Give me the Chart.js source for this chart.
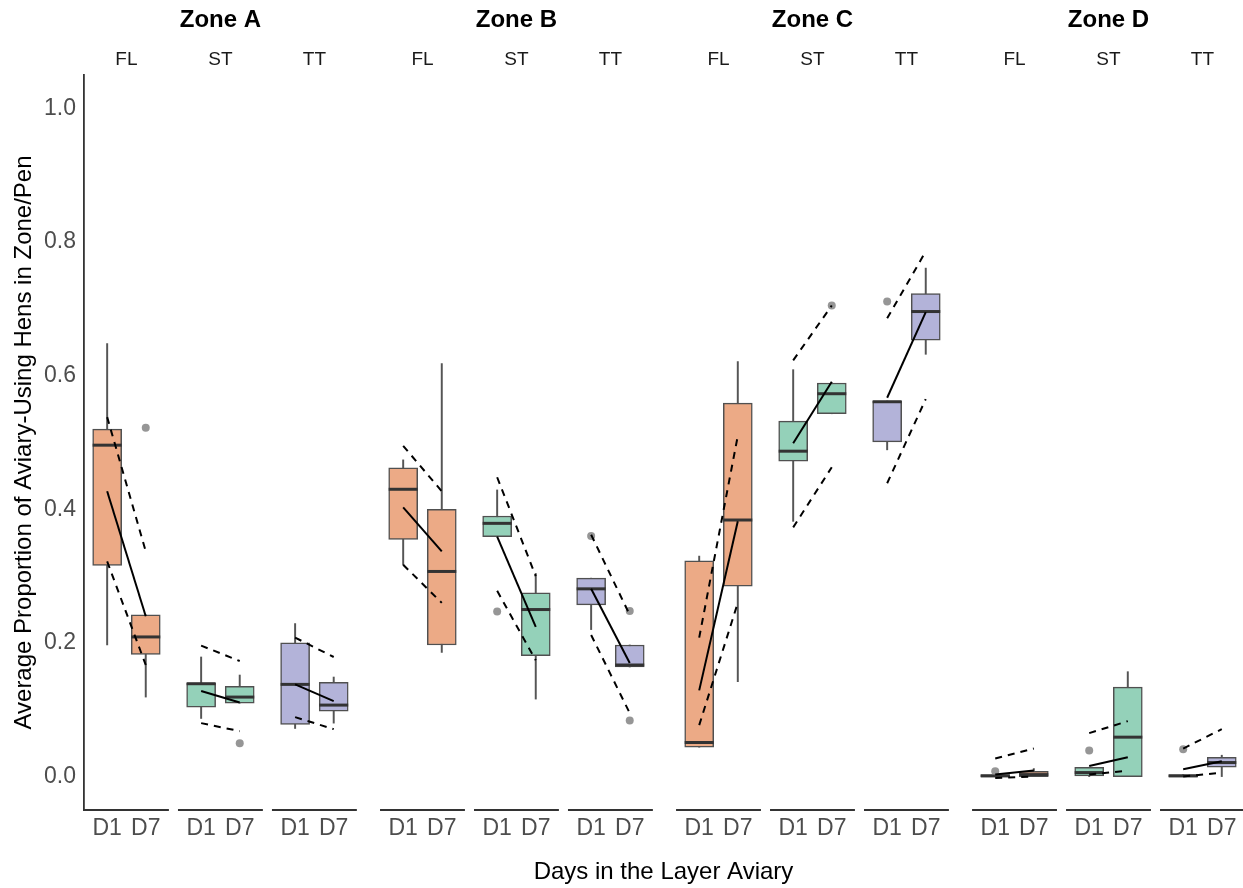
<!DOCTYPE html>
<html>
<head>
<meta charset="utf-8">
<script src="https://cdn.jsdelivr.net/npm/chart.js@4.4.1/dist/chart.umd.min.js"></script>
<style>
  html, body { margin: 0; padding: 0; background: #fff; }
  canvas { display: block; }
</style>
</head>
<body>
<canvas id="chart" width="1243" height="888"></canvas>
<script>
// Facets and x categories
const zones = ['Zone A', 'Zone B', 'Zone C', 'Zone D'];
const strains = ['FL', 'ST', 'TT'];
const days = ['D1', 'D7'];
const yTicks = [0, 0.2, 0.4, 0.6, 0.8, 1.0];

// One entry per box, ordered zone -> strain -> day (D1, D7)
const whiskerLow = [
  0.197, 0.119, 0.087, 0.110, 0.072, 0.080,
  0.317, 0.186, 0.359, 0.116, 0.220, 0.164,
  0.044, 0.142, 0.382, 0.543, 0.489, 0.632,
  0.000, 0.000, 0.000, 0.000, 0.000, 0.000
];
const q1 = [
  0.316, 0.183, 0.104, 0.110, 0.078, 0.098,
  0.355, 0.197, 0.359, 0.181, 0.257, 0.164,
  0.044, 0.285, 0.472, 0.543, 0.501, 0.653,
  0.000, 0.000, 0.001, 0.000, 0.000, 0.014
];
const median = [
  0.496, 0.209, 0.139, 0.119, 0.138, 0.107,
  0.430, 0.307, 0.379, 0.250, 0.281, 0.167,
  0.051, 0.384, 0.487, 0.573, 0.561, 0.696,
  0.001, 0.003, 0.006, 0.059, 0.001, 0.021
];
const q3 = [
  0.520, 0.242, 0.140, 0.135, 0.200, 0.141,
  0.462, 0.400, 0.390, 0.275, 0.297, 0.197,
  0.323, 0.559, 0.532, 0.589, 0.562, 0.723,
  0.003, 0.008, 0.014, 0.134, 0.003, 0.029
];
const whiskerHigh = [
  0.648, 0.242, 0.179, 0.152, 0.229, 0.149,
  0.474, 0.618, 0.429, 0.304, 0.297, 0.197,
  0.330, 0.621, 0.609, 0.589, 0.562, 0.761,
  0.003, 0.012, 0.014, 0.157, 0.003, 0.032
];
const outliers = [
  [], [0.522], [], [0.050], [], [],
  [], [], [0.247], [], [0.360], [0.248, 0.084],
  [], [], [], [0.705], [0.711], [],
  [0.008], [], [0.039], [], [0.041], []
];
// Model estimate and its confidence band, per box
const meanProp = [
  0.427, 0.240, 0.128, 0.111, 0.138, 0.113,
  0.403, 0.337, 0.359, 0.224, 0.281, 0.170,
  0.129, 0.382, 0.499, 0.591, 0.567, 0.695,
  0.003, 0.009, 0.016, 0.029, 0.011, 0.023
];
const ciLower = [
  0.322, 0.167, 0.080, 0.068, 0.089, 0.071,
  0.317, 0.260, 0.278, 0.174, 0.212, 0.095,
  0.077, 0.260, 0.373, 0.463, 0.439, 0.565,
  -0.002, 0.000, 0.003, 0.009, 0.000, 0.006
];
const ciUpper = [
  0.538, 0.337, 0.196, 0.173, 0.208, 0.179,
  0.495, 0.427, 0.448, 0.300, 0.362, 0.242,
  0.208, 0.510, 0.623, 0.705, 0.686, 0.786,
  0.027, 0.042, 0.065, 0.083, 0.042, 0.071
];

const strainColors = ['#ECAA86', '#94D1B9', '#B3B3D9'];

// Horizontal layout in axis units: each strain panel is 2.2 units wide
const PANEL_W = 2.2;
const DAY_POS = [0.6, 1.6];
const STRAIN_GAP = 0.235;
const ZONE_GAP = 0.6;
const X_MAX = 30.03;
function panelStart(z, s) {
  return z * (3 * PANEL_W + 2 * STRAIN_GAP + ZONE_GAP) + s * (PANEL_W + STRAIN_GAP);
}
const boxX = [];
zones.forEach((_, z) => strains.forEach((_, s) => days.forEach((_, d) => {
  boxX.push(panelStart(z, s) + DAY_POS[d]);
})));

const FONT = '"Liberation Sans", Arial, Helvetica, sans-serif';
Chart.defaults.font.family = FONT;

const datasets = [];
datasets.push({
  type: 'bar',
  data: boxX.map((x, i) => ({ x, y: [whiskerLow[i], whiskerHigh[i]] })),
  backgroundColor: '#555555',
  barThickness: 1.3,
  grouped: false,
  order: 6
});
datasets.push({
  type: 'bar',
  data: boxX.map((x, i) => ({ x, y: [q1[i], q3[i]] })),
  backgroundColor: boxX.map((_, i) => strainColors[Math.floor(i / 2) % 3]),
  borderColor: '#505050',
  borderWidth: 1.5,
  borderSkipped: false,
  barThickness: 29,
  grouped: false,
  order: 5
});
datasets.push({
  type: 'line',
  showLine: false,
  data: boxX.map((x, i) => ({ x, y: median[i] })),
  pointStyle: 'line',
  pointRadius: 14.5,
  pointBorderWidth: 3,
  pointBorderColor: '#333333',
  order: 4
});
const outlierPts = [];
outliers.forEach((vals, i) => vals.forEach(v => outlierPts.push({ x: boxX[i], y: v })));
datasets.push({
  type: 'line',
  showLine: false,
  data: outlierPts,
  pointRadius: 4,
  pointBackgroundColor: 'rgba(115,115,115,0.75)',
  pointBorderWidth: 0,
  order: 3
});
// D1 -> D7 estimate lines per panel
for (let p = 0; p < boxX.length / 2; p++) {
  const a = 2 * p, b = 2 * p + 1;
  [ciUpper, ciLower].forEach(arr => datasets.push({
    type: 'line',
    data: [{ x: boxX[a], y: arr[a] }, { x: boxX[b], y: arr[b] }],
    borderColor: '#000',
    borderWidth: 2,
    borderDash: [7, 6],
    pointRadius: 0,
    order: 2
  }));
  datasets.push({
    type: 'line',
    data: [{ x: boxX[a], y: meanProp[a] }, { x: boxX[b], y: meanProp[b] }],
    borderColor: '#000',
    borderWidth: 2,
    pointRadius: 0,
    order: 1
  });
}

// Facet strips and per-panel x axis lines
const facetPlugin = {
  id: 'facets',
  afterDraw(chart) {
    const { ctx, chartArea } = chart;
    const x = chart.scales.x;
    ctx.save();
    ctx.textAlign = 'center';
    ctx.textBaseline = 'middle';
    zones.forEach((zone, z) => {
      const l = x.getPixelForValue(panelStart(z, 0));
      const r = x.getPixelForValue(panelStart(z, 2) + PANEL_W);
      ctx.font = 'bold 24px ' + FONT;
      ctx.fillStyle = '#000';
      ctx.fillText(zone, (l + r) / 2, 20);
      strains.forEach((strain, s) => {
        const a = x.getPixelForValue(panelStart(z, s));
        const b = x.getPixelForValue(panelStart(z, s) + PANEL_W);
        ctx.font = '19px ' + FONT;
        ctx.fillStyle = '#1a1a1a';
        ctx.fillText(strain, (a + b) / 2, 60);
        ctx.beginPath();
        ctx.strokeStyle = '#333';
        ctx.lineWidth = 1.8;
        ctx.moveTo(a, chartArea.bottom);
        ctx.lineTo(b, chartArea.bottom);
        ctx.stroke();
      });
    });
    ctx.restore();
  }
};

new Chart(document.getElementById('chart'), {
  type: 'bar',
  data: { datasets },
  options: {
    responsive: false,
    animation: false,
    events: [],
    layout: { autoPadding: false, padding: { top: 75, left: 0, right: 0, bottom: 0 } },
    plugins: { legend: { display: false }, tooltip: { enabled: false } },
    scales: {
      x: {
        type: 'linear',
        min: 0,
        max: X_MAX,
        offset: false,
        afterBuildTicks(scale) { scale.ticks = boxX.map(v => ({ value: v })); },
        afterFit(scale) {
          scale.height = 78;
          scale.paddingLeft = 0;
          scale.paddingRight = 0;
        },
        ticks: {
          autoSkip: false,
          maxRotation: 0,
          minRotation: 0,
          color: '#4d4d4d',
          font: { size: 23 },
          padding: 5,
          callback: (v, i) => days[i % 2]
        },
        grid: { display: false, drawTicks: false },
        border: { display: false },
        title: {
          display: true,
          text: 'Days in the Layer Aviary',
          color: '#000',
          font: { size: 24 },
          padding: { top: 0, bottom: 1 }
        }
      },
      y: {
        type: 'linear',
        min: -0.05,
        max: 1.05,
        afterBuildTicks(scale) { scale.ticks = yTicks.map(v => ({ value: v })); },
        afterFit(scale) {
          scale.width = 84;
          scale.paddingTop = 0;
          scale.paddingBottom = 0;
        },
        ticks: {
          color: '#4d4d4d',
          font: { size: 23 },
          padding: 8,
          callback: v => v.toFixed(1)
        },
        grid: { display: false, drawTicks: false },
        border: { display: true, color: '#333', width: 1.8 },
        title: {
          display: true,
          text: 'Average Proportion of Aviary-Using Hens in Zone/Pen',
          color: '#000',
          font: { size: 24 },
          padding: { top: 10, bottom: 0 }
        }
      }
    }
  },
  plugins: [facetPlugin]
});
</script>
</body>
</html>
